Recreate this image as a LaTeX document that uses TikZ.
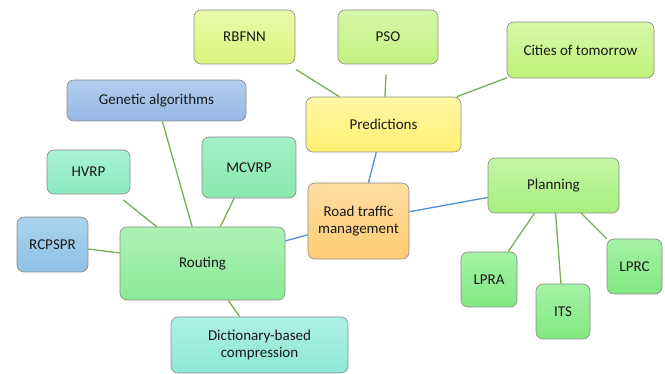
\documentclass[tikz,border=0pt]{standalone}
\usepackage{fontspec}
\setmainfont{Carlito}
\usepackage{tikz}
\usetikzlibrary{arrows.meta,calc,positioning}

\definecolor{linkgreen}{HTML}{79AE55}
\definecolor{linkblue}{HTML}{4F8FD6}
\definecolor{edge}{HTML}{8A8A8A}
% fills, top / bottom
\definecolor{roadT}{HTML}{FFDDA2}\definecolor{roadB}{HTML}{FFCC72}
\definecolor{predT}{HTML}{FFF7A6}\definecolor{predB}{HTML}{FFF072}
\definecolor{rbfT}{HTML}{EAFAAA}\definecolor{rbfB}{HTML}{DCF47C}
\definecolor{psoT}{HTML}{D8F8AA}\definecolor{psoB}{HTML}{C2F07E}
\definecolor{cityT}{HTML}{D6F8A6}\definecolor{cityB}{HTML}{C0F27A}
\definecolor{planT}{HTML}{C4F6A6}\definecolor{planB}{HTML}{A6F07C}
\definecolor{leafT}{HTML}{A6F2A6}\definecolor{leafB}{HTML}{80E880}
\definecolor{routT}{HTML}{AEF2B4}\definecolor{routB}{HTML}{8AEA98}
\definecolor{geneT}{HTML}{B2CEEE}\definecolor{geneB}{HTML}{96B8E4}
\definecolor{hvrpT}{HTML}{AAF2D6}\definecolor{hvrpB}{HTML}{8AEABE}
\definecolor{mcvT}{HTML}{A4F0C6}\definecolor{mcvB}{HTML}{88E8AE}
\definecolor{rcpT}{HTML}{AAD2EE}\definecolor{rcpB}{HTML}{90C2E6}
\definecolor{dictT}{HTML}{AEF0E6}\definecolor{dictB}{HTML}{8EE8D6}

\begin{document}
\begin{tikzpicture}[x=1pt,y=-1pt,
		box/.style={draw=edge,line width=0.6pt,rounded corners=7pt,align=center,
			font=\fontsize{15}{17.5}\selectfont,text=black!90,inner sep=0pt},
		link/.style={linkgreen,line width=1.3pt},
		blink/.style={linkblue,line width=1.3pt}]

			\useasboundingbox (0,0) rectangle (665,374);

			% centre
			\node[box,top color=roadT,bottom color=roadB,minimum width=101pt,minimum height=76pt] (road) at (358.5,221) {Road traffic\\management};

			% predictions branch
			\node[box,top color=predT,bottom color=predB,minimum width=155pt,minimum height=55pt] (predictions) at (383.5,124.5) {Predictions};
			\node[box,top color=rbfT,bottom color=rbfB,minimum width=101pt,minimum height=54pt] (rbfnn) at (244.5,37) {RBFNN};
			\node[box,top color=psoT,bottom color=psoB,minimum width=100pt,minimum height=54pt] (pso) at (388,37) {PSO};
			\node[box,top color=cityT,bottom color=cityB,minimum width=147pt,minimum height=56pt] (cities) at (580.5,50) {Cities of tomorrow};

			% planning branch
			\node[box,top color=planT,bottom color=planB,minimum width=131pt,minimum height=55pt] (planning) at (553.5,185.5) {Planning};
			\node[box,top color=leafT,bottom color=leafB,minimum width=56pt,minimum height=55pt] (lpra) at (489,279.5) {LPRA};
			\node[box,top color=leafT,bottom color=leafB,minimum width=54pt,minimum height=55pt] (its) at (563,311.5) {ITS};
			\node[box,top color=leafT,bottom color=leafB,minimum width=55pt,minimum height=55pt] (lprc) at (634.5,266.5) {LPRC};

			% routing branch
			\node[box,top color=routT,bottom color=routB,minimum width=165pt,minimum height=73pt] (routing) at (202.5,263.5) {Routing};
			\node[box,top color=geneT,bottom color=geneB,minimum width=179pt,minimum height=41pt] (genetic) at (156.5,100.5) {Genetic algorithms};
			\node[box,top color=hvrpT,bottom color=hvrpB,minimum width=83pt,minimum height=44pt] (hvrp) at (88.5,172) {HVRP};
			\node[box,top color=mcvT,bottom color=mcvB,minimum width=94pt,minimum height=61pt] (mcvrp) at (249,167.5) {MCVRP};
			\node[box,top color=rcpT,bottom color=rcpB,minimum width=71pt,minimum height=55pt] (rcpspr) at (52.5,244.5) {RCPSPR};
			\node[box,top color=dictT,bottom color=dictB,minimum width=177pt,minimum height=56pt] (dict) at (259.5,345) {Dictionary-based\\compression};

			\draw[blink] (road) -- (predictions);
			\draw[blink] (road) -- (routing);
			\draw[blink] (road) -- (planning);

			\draw[link,shorten >=10pt] (predictions) -- (rbfnn);
			\draw[link,shorten >=10pt] (predictions) -- (pso);
			\draw[link] (predictions) -- (cities);

			\draw[link] (planning) -- (lpra);
			\draw[link] (planning) -- (its);
			\draw[link] (planning) -- (lprc);

			\draw[link] (routing) -- (genetic);
			\draw[link,shorten >=9pt] (routing) -- (hvrp);
			\draw[link] (routing) -- (mcvrp);
			\draw[link] (routing) -- (rcpspr);
			\draw[link] (routing) -- (dict);

		\end{tikzpicture}
\end{document}
